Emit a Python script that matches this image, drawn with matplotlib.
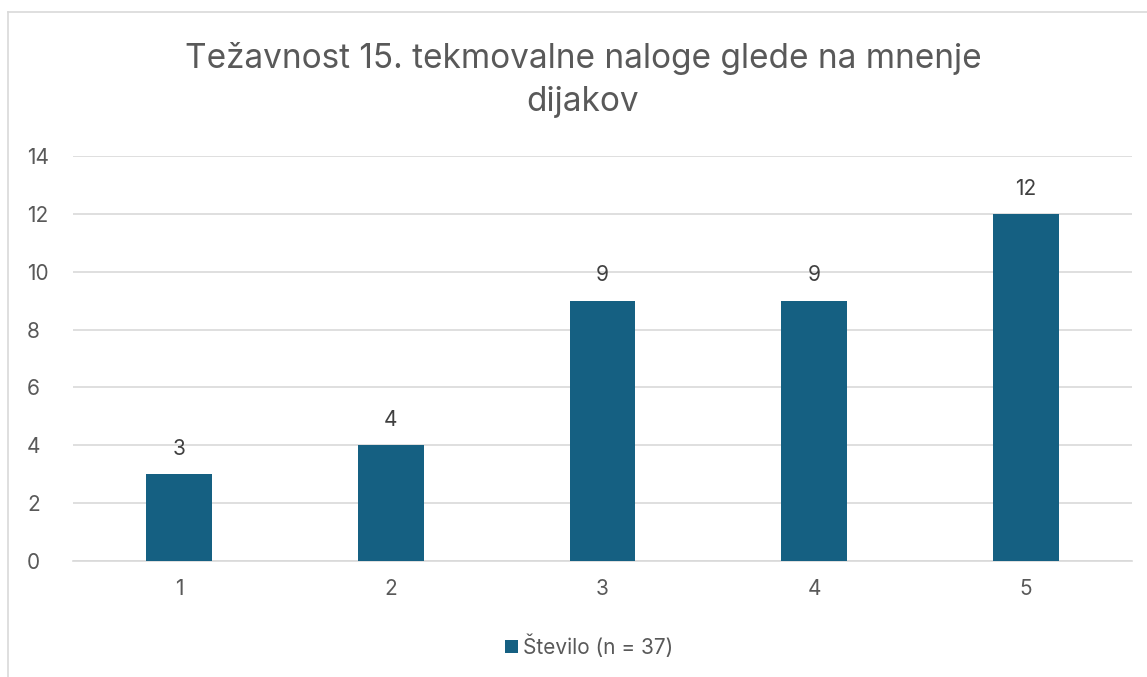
import matplotlib.pyplot as plt
from matplotlib.lines import Line2D
from matplotlib.patches import Patch

categories = ["1", "2", "3", "4", "5"]
counts = [3, 4, 9, 9, 12]
series_name = "Število (n = 37)"
title = "Težavnost 15. tekmovalne naloge glede na mnenje\ndijakov"

plt.rcParams['font.family'] = ['Inter', 'DejaVu Sans']
text_col = '#595959'
bar_col = '#156082'
grid_col = '#D9D9D9'

fig = plt.figure(figsize=(11.47, 6.77), dpi=100)
W, H = 1147, 677
ax = fig.add_axes([73 / W, (H - 561) / H, (1132 - 73) / W, (561 - 156) / H])

x = list(range(len(categories)))
bars = ax.bar(x, counts, width=0.31, color=bar_col, zorder=3)
for b, v in zip(bars, counts):
    ax.annotate(str(v), (b.get_x() + b.get_width() / 2, v), xytext=(0, 11),
                textcoords='offset points', ha='center', va='bottom',
                fontsize=15, color='#404040')

ax.set_xlim(-0.5, len(categories) - 0.5)
ax.set_ylim(0, 14)
ax.set_yticks(range(0, 15, 2))
ax.set_xticks(x)
ax.set_xticklabels(categories)
ax.yaxis.grid(True, color=grid_col, linewidth=1.2, zorder=0)
for s in ['top', 'right', 'left']:
    ax.spines[s].set_visible(False)
ax.spines['bottom'].set_color(grid_col)
ax.spines['bottom'].set_linewidth(1.2)
ax.tick_params(axis='both', length=0, labelsize=15, labelcolor=text_col)
ax.tick_params(axis='x', pad=13)
ax.tick_params(axis='y', pad=33)
for lbl in ax.get_yticklabels():
    lbl.set_horizontalalignment('left')

fig.text(583 / W, 1 - 80 / H, title, ha='center', va='center', fontsize=24,
         color=text_col, linespacing=1.42)

handle = Patch(facecolor=bar_col)
fig.legend([handle], [series_name], loc='center', bbox_to_anchor=(589 / W, 1 - 646 / H),
           frameon=False, fontsize=15, labelcolor=text_col, handlelength=0.6,
           handleheight=0.6, handletextpad=0.25)

# chart frame (top and left edges visible)
fig.add_artist(Line2D([8 / W, 1], [1 - 12 / H, 1 - 12 / H], color=grid_col, lw=1.2))
fig.add_artist(Line2D([8 / W, 8 / W], [0, 1 - 12 / H], color=grid_col, lw=1.2))

fig.savefig("out.png", dpi=100)
